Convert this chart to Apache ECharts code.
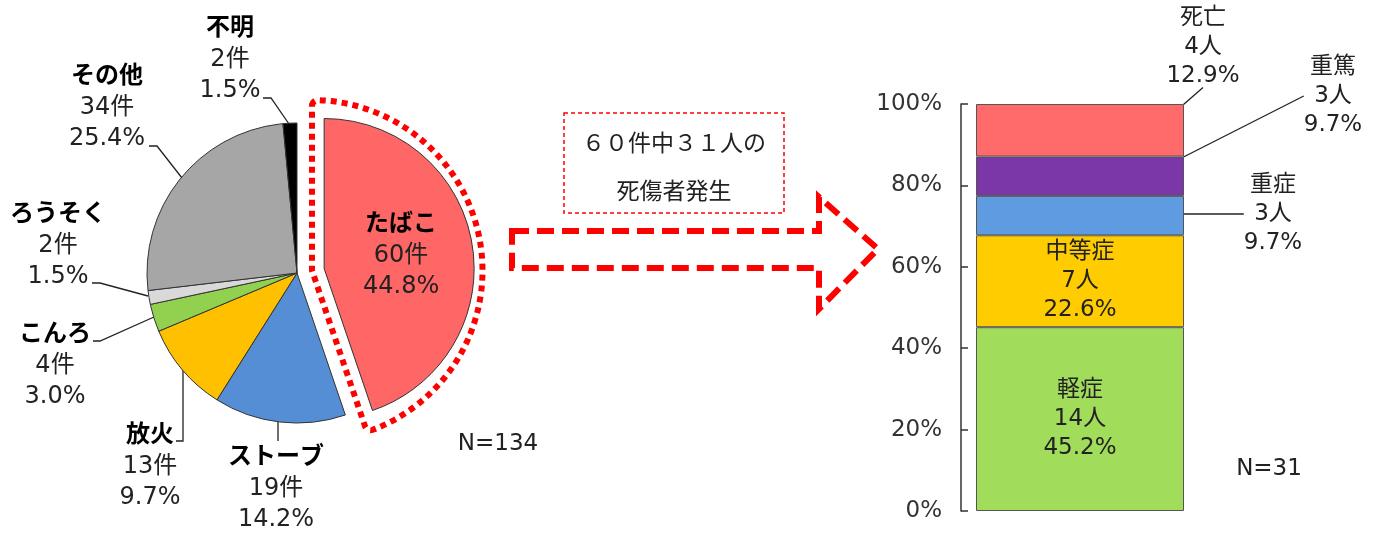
<!DOCTYPE html>
<html>
<head>
<meta charset="utf-8">
<script src="https://cdn.jsdelivr.net/npm/echarts@6/dist/echarts.min.js"></script>
<style>
html,body{margin:0;padding:0;background:#fff;}
#c{width:1376px;height:533px;}
</style>
</head>
<body>
<div id="c"></div>
<script>
// ---- data ----
const pieNames  = ['たばこ', 'ストーブ', '放火', 'こんろ', 'ろうそく', 'その他', '不明'];
const pieCounts = [60, 19, 13, 4, 2, 34, 2];
const barNames  = ['軽症', '中等症', '重症', '重篤', '死亡'];
const barCounts = [14, 7, 3, 3, 4];
const yTickLabels = ['0%', '20%', '40%', '60%', '80%', '100%'];
const boxLines = ['６０件中３１人の', '死傷者発生'];

// ---- styles / layout ----
const pieColors = ['#FF6666', '#558ED5', '#FFC000', '#92D050', '#D9D9D9', '#A6A6A6', '#000000'];
const barColors = ['#A1DC5B', '#FFCC00', '#5E9BE0', '#7B37A8', '#FF6B6B'];
const FONT = "'DejaVu Sans', 'Noto Sans CJK JP', sans-serif";
const CJK = "'Noto Sans CJK JP', sans-serif";

const pieTotal = pieCounts.reduce((a, b) => a + b, 0);
const barTotal = barCounts.reduce((a, b) => a + b, 0);

// label block centres and leader lines (layout only)
const pieLabelPos = [
  [401, 248], [276, 489], [150, 467], [55, 366], [58, 246], [107, 108], [230, 60]
];
const pieLeader = [
  null,
  [[278, 420], [278, 430], [278, 441]],
  [[183, 368], [183, 441], [176, 441]],
  [[154, 317], [100, 341], [93, 341]],
  [[148, 296], [100, 283], [92, 283]],
  [[182, 178], [157, 146], [149, 146]],
  [[289, 124], [271, 98], [263, 98]]
];
const barOutside = {
  2: { pos: [1273, 214], line: [[1185, 215], [1212, 213], [1238, 211]] },
  3: { pos: [1333, 96],  line: [[1185, 175], [1290, 95], [1297, 95]] },
  4: { pos: [1203, 47],  line: [[1080, 104], [1153, 47], [1159, 47]] }
};

const pieData = pieNames.map((n, i) => ({
  name: n, value: pieCounts[i], selected: i === 0,
  itemStyle: { color: pieColors[i] },
  label: i === 0 ? { position: 'inside' } : undefined,
  labelLine: { show: i !== 0 }
}));

const outlineData = pieNames.map((n, i) => ({
  name: n, value: pieCounts[i], selected: i === 0,
  itemStyle: i === 0
    ? { color: 'rgba(0,0,0,0)', borderColor: '#FF0000', borderWidth: 6, borderType: [6, 5], borderRadius: 6 }
    : { color: 'rgba(0,0,0,0)', borderWidth: 0 }
}));

const barSeries = barNames.map((n, i) => {
  const pct = (barCounts[i] / barTotal * 100);
  const out = barOutside[i];
  return {
    type: 'bar', name: n, stack: 'all', barWidth: 208,
    xAxisIndex: 0, yAxisIndex: 0,
    data: [pct],
    itemStyle: { color: barColors[i], borderColor: '#555', borderWidth: 1 },
    label: {
      show: true, position: out ? 'right' : 'inside',
      formatter: () => `{a|${n}}\n{a|${barCounts[i]}人}\n{a|${pct.toFixed(1)}%}`,
      rich: { a: { fontSize: 23, lineHeight: 29, color: '#222', fontFamily: FONT, align: 'center' } }
    },
    labelLine: out ? { show: true, lineStyle: { color: '#222', width: 1.3 } } : { show: false },
    labelLayout: out ? () => ({ x: out.pos[0], y: out.pos[1], align: 'center', verticalAlign: 'middle', labelLinePoints: out.line }) : undefined,
    emphasis: { disabled: true },
    z: 2
  };
});

const chart = echarts.init(document.getElementById('c'), null, { renderer: 'canvas' });
chart.setOption({
  animation: false,
  backgroundColor: '#fff',
  grid: { left: 961, top: 104, width: 238, height: 407 },
  xAxis: { type: 'category', data: ['死傷者'], show: false },
  yAxis: {
    type: 'value', min: 0, max: 100, interval: 20,
    axisLine: { show: true, lineStyle: { color: '#333', width: 1.5 } },
    axisTick: { show: true, inside: true, length: 7, lineStyle: { color: '#333', width: 1.5 } },
    splitLine: { show: false },
    axisLabel: {
      margin: 19, fontSize: 23, color: '#333', fontFamily: FONT,
      formatter: (v) => yTickLabels[Math.round(v / 20)]
    }
  },
  series: [
    {
      type: 'pie', name: 'outline', center: [297, 273], radius: 170.5,
      selectedMode: 'single', selectedOffset: 15.2,
      silent: true, label: { show: false }, labelLine: { show: false },
      emphasis: { disabled: true },
      data: outlineData, z: 1
    },
    {
      type: 'pie', name: '出火原因', center: [297, 273], radius: 150,
      selectedMode: 'single', selectedOffset: 27.5,
      avoidLabelOverlap: false,
      itemStyle: { borderColor: '#333', borderWidth: 1 },
      emphasis: { disabled: true },
      label: {
        show: true, position: 'outside',
        formatter: (p) => `{n|${p.name}}\n{v|${p.value}件}\n{v|${(p.value / pieTotal * 100).toFixed(1)}%}`,
        rich: {
          n: { fontSize: 24, lineHeight: 31, fontWeight: 'bold', color: '#000', fontFamily: FONT, align: 'center' },
          v: { fontSize: 24, lineHeight: 31, color: '#222', fontFamily: FONT, align: 'center' }
        }
      },
      labelLine: { show: true, lineStyle: { color: '#222', width: 1.3 } },
      labelLayout: (params) => {
        const i = params.dataIndex;
        if (i === 0) return {};
        return { x: pieLabelPos[i][0], y: pieLabelPos[i][1], align: 'center', verticalAlign: 'middle', labelLinePoints: pieLeader[i] };
      },
      data: pieData, z: 3
    },
    ...barSeries
  ],
  graphic: [
    {
      type: 'polygon', silent: true,
      shape: { points: [[512, 231], [819, 231], [819, 197], [878, 249], [819, 309], [819, 268], [512, 268]] },
      style: { fill: 'none', stroke: '#FF0000', lineWidth: 6, lineDash: [17, 8] }
    },
    {
      type: 'rect', silent: true,
      shape: { x: 564, y: 113, width: 220, height: 100 },
      style: { fill: '#fff', stroke: '#FF0000', lineWidth: 1.5, lineDash: [4, 3] }
    },
    {
      type: 'text', silent: true, x: 674, y: 142,
      style: { text: boxLines[0], font: `23px ${CJK}`, fill: '#222', align: 'center', verticalAlign: 'middle' }
    },
    {
      type: 'text', silent: true, x: 674, y: 190,
      style: { text: boxLines[1], font: `23px ${CJK}`, fill: '#222', align: 'center', verticalAlign: 'middle' }
    },
    {
      type: 'text', silent: true, x: 498, y: 444,
      style: { text: 'N=' + pieTotal, font: `23px ${FONT}`, fill: '#222', align: 'center', verticalAlign: 'middle' }
    },
    {
      type: 'text', silent: true, x: 1269, y: 469,
      style: { text: 'N=' + barTotal, font: `23px ${FONT}`, fill: '#222', align: 'center', verticalAlign: 'middle' }
    }
  ]
});
</script>
</body>
</html>
